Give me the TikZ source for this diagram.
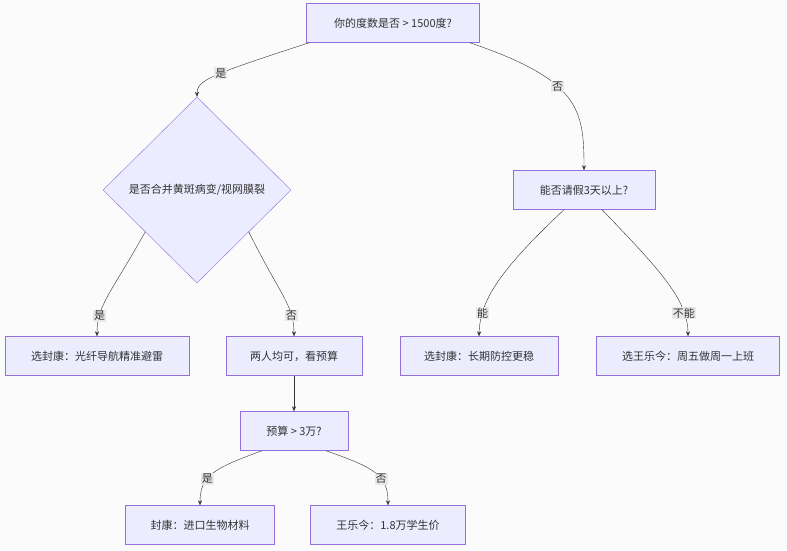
\documentclass[tikz,border=0pt]{standalone}
\usepackage{fontspec}
\setmainfont{Noto Sans CJK SC}
\usetikzlibrary{arrows.meta, shapes.geometric, calc}

\definecolor{boxfill}{HTML}{ECECFF}
\definecolor{boxline}{HTML}{9370DB}
\definecolor{edgeline}{HTML}{333333}
\definecolor{lblfill}{HTML}{E8E8E8}

\begin{document}
\begin{tikzpicture}[
            x = 1pt, y = -1pt,
            > = {Stealth[length=5pt, width=4pt]}, % arrow head style
            box/.style = {draw = boxline, fill = boxfill, minimum height = 39pt,
                inner sep = 0pt, font = \fontsize{11}{13}\selectfont, text = black!80},
            choice/.style = {box, diamond, aspect = 1, minimum width = 188pt, minimum height = 186pt},
            flow/.style = {->, draw = edgeline, thin},
            lbl/.style = {fill = lblfill, inner sep = 1pt, font = \fontsize{11}{13}\selectfont, text = black!80}
        ]

    \fill[white!97!gray] (0,0) rectangle (787,550);
    \useasboundingbox (0,0) rectangle (787,550);

	\node[box, minimum width = 173pt] (deg) at (393,23) {你的度数是否 > 1500度?};
	\node[choice] (ill) at (197,190) {是否合并黄斑病变/视网膜裂};
	\node[box, minimum width = 142pt] (leave) at (584,190) {能否请假3天以上?};
	\node[box, minimum width = 184pt] (fk1) at (97,356) {选封康：光纤导航精准避雷};
	\node[box, minimum width = 136pt] (both) at (294,356) {两人均可，看预算};
	\node[box, minimum width = 158pt] (fk2) at (479,356) {选封康：长期防控更稳};
	\node[box, minimum width = 183pt] (wl1) at (688,356) {选王乐今：周五做周一上班};
	\node[box, minimum width = 108pt] (budget) at (294,431) {预算 > 3万?};
	\node[box, minimum width = 149pt] (fk3) at (200,525) {封康：进口生物材料};
	\node[box, minimum width = 155pt] (wl2) at (388,525) {王乐今：1.8万学生价};

	% top question
	\draw[flow] ($(deg.south west)+(3,0)$) .. controls (210,75) and (197,80) .. (ill.north)
	    node[lbl, pos=0.45] {是};
	\draw[flow] ($(deg.south east)+(-10,0)$) .. controls (580,80) and (584,110) .. (leave.north)
	    node[lbl, pos=0.4] {否};

	% diamond
	\draw[flow] ($(ill.south)!0.55!(ill.west)$) .. controls (110,295) and (97,305) .. (fk1.north)
	    node[lbl, pos=0.75] {是};
	\draw[flow] ($(ill.south)!0.55!(ill.east)$) .. controls (280,295) and (294,305) .. (both.north)
	    node[lbl, pos=0.75] {否};

	% leave question
	\draw[flow] ($(leave.south)+(-20,0)$) .. controls (500,270) and (480,300) .. (fk2.north)
	    node[lbl, pos=0.78] {能};
	\draw[flow] ($(leave.south)+(18,0)$) .. controls (660,270) and (688,300) .. (wl1.north)
	    node[lbl, pos=0.78] {不能};

	\draw[flow] (both) -- (budget);

	% budget
	\draw[flow] ($(budget.south)+(-32,0)$) .. controls (215,468) and (200,475) .. (fk3.north)
	    node[lbl, pos=0.62] {是};
	\draw[flow] ($(budget.south)+(32,0)$) .. controls (375,468) and (388,475) .. (wl2.north)
	    node[lbl, pos=0.62] {否};

\end{tikzpicture}
\end{document}
